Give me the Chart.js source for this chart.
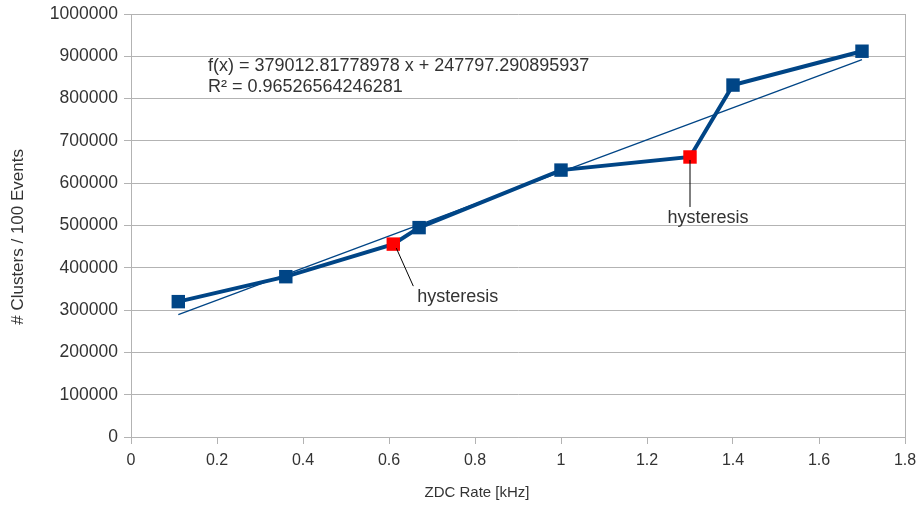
<!DOCTYPE html>
<html>
<head>
<meta charset="utf-8">
<title>Clusters vs ZDC rate</title>
<script src="https://cdn.jsdelivr.net/npm/chart.js@4.4.1/dist/chart.umd.min.js"></script>
<style>
  html, body { margin: 0; padding: 0; background: #ffffff; }
  #wrap { width: 917px; height: 505px; position: relative; }
</style>
</head>
<body>
<div id="wrap"><canvas id="chart" width="917" height="505"></canvas></div>
<script>
// Measured cluster counts per 100 events at each ZDC rate (kHz)
const zdcRate   = [0.11, 0.36, 0.61, 0.67, 1.00, 1.30, 1.40, 1.70];
const clusters  = [320000, 379000, 456000, 495000, 631000, 662000, 832000, 912000];
// Points taken on the way back down (hysteresis), drawn in red
const hysteresis = [false, false, true, false, false, true, false, false];

// Linear fit reported for the series
const fitSlope = 379012.81778978;
const fitIntercept = 247797.290895937;
const fitText = ['f(x) = 379012.81778978 x + 247797.290895937', 'R\u00b2 = 0.96526564246281'];

// Axis ticks and titles
const xTicks = [0, 0.2, 0.4, 0.6, 0.8, 1, 1.2, 1.4, 1.6, 1.8];
const yTicks = [0, 100000, 200000, 300000, 400000, 500000, 600000, 700000, 800000, 900000, 1000000];
const xTitle = 'ZDC Rate [kHz]';
const yTitle = '# Clusters / 100 Events';

const BLUE = '#004586';
const RED = '#ff0000';
const GRID = '#b3b3b3';
const TEXT = '#333333';
const FONT = '"Liberation Sans", Arial, sans-serif';

const points = zdcRate.map((x, i) => ({ x: x, y: clusters[i] }));
const xMin = Math.min(...zdcRate), xMax = Math.max(...zdcRate);
const fitLine = [xMin, xMax].map(x => ({ x: x, y: fitSlope * x + fitIntercept }));

// Leader-line labels for the hysteresis points (offsets in px from the marker)
const notes = [
  { index: 2, text: 'hysteresis', lineFrom: [3, 4], lineTo: [20, 42], textAt: [24, 53], align: 'left' },
  { index: 5, text: 'hysteresis', lineFrom: [0, 3], lineTo: [0, 50], textAt: [18, 61], align: 'center' }
];

const annotate = {
  id: 'annotate',
  afterDatasetsDraw(chart) {
    const ctx = chart.ctx;
    const xs = chart.scales.x, ys = chart.scales.y;
    const area = chart.chartArea;
    ctx.save();
    ctx.fillStyle = TEXT;
    ctx.textBaseline = 'middle';

    // fit equation
    ctx.font = '18px ' + FONT;
    ctx.textAlign = 'left';
    ctx.fillText(fitText[0], area.left + 77, area.top + 52);
    ctx.fillText(fitText[1], area.left + 77, area.top + 73);

    // hysteresis notes
    notes.forEach(n => {
      const px = xs.getPixelForValue(zdcRate[n.index]);
      const py = ys.getPixelForValue(clusters[n.index]);
      ctx.strokeStyle = '#000000';
      ctx.lineWidth = 1;
      ctx.beginPath();
      ctx.moveTo(px + n.lineFrom[0], py + n.lineFrom[1]);
      ctx.lineTo(px + n.lineTo[0], py + n.lineTo[1]);
      ctx.stroke();
      ctx.font = '18px ' + FONT;
      ctx.textAlign = n.align;
      ctx.fillText(n.text, px + n.textAt[0], py + n.textAt[1]);
    });

    // axis titles
    ctx.textAlign = 'center';
    ctx.font = '15px ' + FONT;
    ctx.fillText(xTitle, area.left + (area.right - area.left) * 0.447, chart.height - 12);
    ctx.save();
    ctx.translate(18, area.top + (area.bottom - area.top) * 0.527);
    ctx.rotate(-Math.PI / 2);
    ctx.font = '17px ' + FONT;
    ctx.fillText(yTitle, 0, 0);
    ctx.restore();

    ctx.restore();
  }
};

new Chart(document.getElementById('chart'), {
  type: 'scatter',
  data: {
    datasets: [
      {
        label: 'Clusters',
        data: points,
        showLine: true,
        borderColor: BLUE,
        borderWidth: 4,
        pointStyle: 'rect',
        pointRadius: 9.5,
        pointBorderWidth: 0,
        pointBackgroundColor: hysteresis.map(h => h ? RED : BLUE),
        pointBorderColor: hysteresis.map(h => h ? RED : BLUE),
        order: 1
      },
      {
        label: 'Linear fit',
        data: fitLine,
        showLine: true,
        borderColor: BLUE,
        borderWidth: 1.3,
        pointRadius: 0,
        order: 2
      }
    ]
  },
  options: {
    responsive: false,
    animation: false,
    layout: { padding: { left: 0, right: 12, top: 14, bottom: 0 } },
    plugins: {
      legend: { display: false },
      tooltip: { enabled: false }
    },
    scales: {
      x: {
        type: 'linear',
        min: 0,
        max: 1.8,
        afterBuildTicks(scale) { scale.ticks = xTicks.map(v => ({ value: v })); },
        afterFit(scale) {
          scale.height = 68;
          scale.paddingLeft = 0;
          scale.paddingRight = 0;
        },
        grid: {
          color: ctx => (ctx.index === xTicks.length - 1 ? GRID : 'rgba(0,0,0,0)'),
          tickColor: GRID,
          tickLength: 7,
          lineWidth: 1
        },
        border: { color: GRID, width: 1 },
        ticks: {
          color: TEXT,
          font: { family: FONT, size: 16 },
          padding: 7,
          maxRotation: 0,
          callback: v => String(Number(v.toFixed(1)))
        },
        title: { display: false }
      },
      y: {
        type: 'linear',
        min: 0,
        max: 1000000,
        afterBuildTicks(scale) { scale.ticks = yTicks.map(v => ({ value: v })); },
        afterFit(scale) {
          scale.width = 131;
          scale.paddingTop = 0;
          scale.paddingBottom = 0;
        },
        grid: {
          color: GRID,
          tickColor: GRID,
          tickLength: 7,
          lineWidth: 1
        },
        border: { color: GRID, width: 1 },
        ticks: {
          color: TEXT,
          font: { family: FONT, size: 17.5 },
          padding: 6,
          callback: v => String(v)
        },
        title: { display: false }
      }
    }
  },
  plugins: [annotate]
});
</script>
</body>
</html>
